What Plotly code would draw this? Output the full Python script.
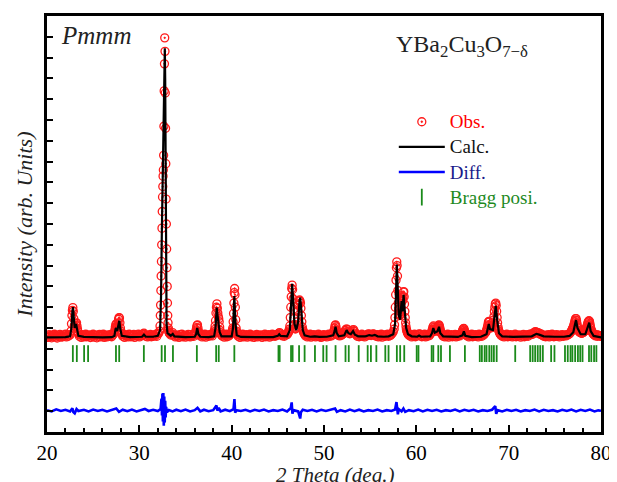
import plotly.graph_objects as go

# ---------------- data ----------------
# Observed pattern: (start 2theta, step, observed intensities in that run)
obs_segments = [
    (20.0, 0.1, [4.62, 4.55, 4.68, 4.58, 4.64, 4.53, 4.66, 4.6, 4.7, 4.57,
                 4.64, 4.52, 4.66, 4.6, 4.69, 4.56, 4.63, 4.58, 4.67, 4.61,
                 4.7, 4.57, 4.65, 4.6, 4.68, 4.66]),
    (22.6, 0.05, [4.85, 5.2, 5.6, 5.85, 5.98, 5.8, 5.45, 5.1, 5.0, 5.05, 5.15, 5.22, 5.25,
                  5.1, 4.95, 4.82, 4.72]),
    (23.5, 0.1, [4.6, 4.66, 4.55, 4.68, 4.62, 4.57, 4.64, 4.7, 4.58, 4.63,
                 4.6, 4.67, 4.54, 4.65, 4.6, 4.7, 4.56, 4.62, 4.66, 4.53,
                 4.66, 4.6, 4.69, 4.57, 4.63, 4.6, 4.7, 4.55, 4.64, 4.61,
                 4.57, 4.67, 4.63, 4.6, 4.69, 4.58, 4.65, 4.7]),
    (27.3, 0.05, [4.78, 4.9, 5.05, 5.15, 5.2, 5.05, 5.0, 5.1, 5.25, 5.42, 5.5, 5.48, 5.25,
                  5.0, 4.85, 4.76, 4.7]),
    (28.2, 0.1, [4.6, 4.66, 4.55, 4.68, 4.6, 4.63, 4.57, 4.7, 4.62, 4.58,
                 4.65, 4.6, 4.69, 4.55, 4.63, 4.67, 4.6, 4.7, 4.57, 4.64,
                 4.62, 4.68, 4.72, 4.75, 4.68, 4.6, 4.66, 4.57, 4.63, 4.6,
                 4.69, 4.58, 4.65, 4.6, 4.67, 4.62, 4.7, 4.6, 4.72, 4.75,
                 4.85]),
    (32.24, 0.03, [5.1, 5.6, 6.1, 6.8, 7.5, 8.2, 9.0, 9.8, 10.6, 11.3, 11.8, 12.3, 12.6,
                   13.3, 14.7, 16.4, 17.7, 18.95, 18.3, 16.3, 14.6, 12.9, 11.2, 10.0, 8.8,
                   7.9, 7.0, 6.2, 5.6, 5.25, 5.0, 4.9, 4.82, 4.78, 4.75, 4.72]),
    (33.4, 0.1, [4.66, 4.7, 4.78, 4.68, 4.62, 4.57, 4.66, 4.6, 4.64, 4.55,
                 4.68, 4.6, 4.7, 4.58, 4.63, 4.66, 4.56, 4.64, 4.6, 4.69,
                 4.6, 4.57, 4.68, 4.62, 4.66, 4.6, 4.7]),
    (36.05, 0.05, [4.75, 4.8, 4.9, 5.02, 5.12, 5.15, 5.0, 4.85, 4.76, 4.7]),
    (36.6, 0.1, [4.62, 4.68, 4.57, 4.65, 4.6, 4.7, 4.56, 4.66, 4.62, 4.6,
                 4.68, 4.63, 4.7, 4.62, 4.72]),
    (38.05, 0.05, [4.75, 4.82, 4.92, 5.1, 5.35, 5.72, 6.0, 6.16, 5.95, 5.72, 5.55, 5.45,
                   5.3, 5.05, 4.88, 4.78, 4.7]),
    (38.9, 0.1, [4.65, 4.6, 4.68, 4.56, 4.64, 4.7, 4.58, 4.66, 4.62, 4.68, 4.72, 4.78]),
    (40.04, 0.04, [4.82, 4.9, 5.0, 5.3, 5.7, 6.2, 6.7, 6.9, 6.6, 6.0, 5.4, 5.0, 4.85,
                   4.78, 4.72, 4.68]),
    (40.7, 0.1, [4.6, 4.66, 4.55, 4.63, 4.6, 4.7, 4.57, 4.64, 4.61, 4.68,
                 4.56, 4.65, 4.6, 4.7, 4.58, 4.63, 4.66, 4.55, 4.64, 4.6,
                 4.69, 4.57, 4.65, 4.6, 4.67, 4.62, 4.55, 4.66, 4.6, 4.7,
                 4.58, 4.63, 4.6, 4.68, 4.56, 4.65, 4.6, 4.7, 4.62, 4.66,
                 4.6, 4.68, 4.64, 4.7, 4.75, 4.78, 4.72, 4.66, 4.62, 4.68,
                 4.6, 4.66, 4.7, 4.68, 4.75]),
    (46.15, 0.05, [4.8, 4.86, 4.95, 5.1, 5.5, 6.0, 6.5, 6.9, 7.06, 6.85,
                   6.4, 5.9, 5.45, 5.15, 5.0, 4.95, 4.98, 5.05, 5.15, 5.3,
                   5.5, 5.8, 6.1, 6.3, 6.35, 6.3, 6.2, 5.95, 5.6, 5.3,
                   5.05, 4.92, 4.85, 4.78, 4.74, 4.7, 4.68]),
    (48.0, 0.1, [4.62, 4.66, 4.57, 4.64, 4.6, 4.7, 4.56, 4.65, 4.6, 4.68,
                 4.62, 4.57, 4.66, 4.6, 4.7, 4.58, 4.64, 4.55, 4.66, 4.6,
                 4.68, 4.6, 4.63, 4.57, 4.66, 4.7, 4.6, 4.66, 4.62, 4.7,
                 4.78]),
    (51.05, 0.05, [4.82, 4.9, 5.0, 5.12, 5.15, 5.05, 4.9, 4.8, 4.72, 4.68, 4.65, 4.66]),
    (51.7, 0.1, [4.62, 4.68, 4.65, 4.7, 4.72, 4.8, 4.88, 4.95, 4.95, 4.85,
                 4.75, 4.72, 4.76, 4.82, 4.9, 4.92, 4.84, 4.72, 4.66, 4.6]),
    (53.7, 0.1, [4.66, 4.58, 4.65, 4.62, 4.7, 4.6, 4.64, 4.57, 4.66, 4.62,
                 4.68, 4.72, 4.7, 4.66, 4.64, 4.68, 4.72, 4.7, 4.66, 4.62,
                 4.6, 4.68, 4.57, 4.64, 4.6, 4.7, 4.56, 4.66, 4.62, 4.6,
                 4.68, 4.63, 4.7, 4.6, 4.66, 4.64, 4.7, 4.75, 4.82, 4.95]),
    (57.64, 0.04, [5.15, 5.5, 6.0, 6.6, 7.3, 7.9, 8.18, 8.0, 7.5,
                   6.8, 6.2, 5.9, 5.7, 5.62, 5.6, 5.65, 5.78, 6.0, 6.3, 6.55, 6.45, 6.3,
                   6.35, 6.5, 6.72, 6.75, 6.5, 6.15, 5.8, 5.5, 5.25, 5.08, 4.95, 4.88,
                   4.82, 4.78, 4.74, 4.7, 4.68, 4.66]),
    (59.3, 0.1, [4.62, 4.68, 4.57, 4.64, 4.6, 4.7, 4.58, 4.66, 4.62, 4.68,
                 4.72, 4.7, 4.62, 4.58, 4.66, 4.6, 4.7, 4.57, 4.64, 4.6,
                 4.68, 4.63, 4.7, 4.76]),
    (61.65, 0.05, [4.8, 4.88, 4.95, 5.05, 5.1, 5.02, 4.95, 4.88, 4.85, 4.86, 4.88, 4.92,
                   4.98, 5.02, 5.08, 5.12, 5.15, 5.1, 5.0, 4.9, 4.8, 4.75, 4.72, 4.7, 4.66]),
    (62.9, 0.1, [4.6, 4.66, 4.57, 4.65, 4.6, 4.7, 4.56, 4.64, 4.62, 4.68,
                 4.58, 4.65, 4.6, 4.69, 4.57, 4.64, 4.6, 4.68, 4.62, 4.7,
                 4.76]),
    (64.95, 0.05, [4.8, 4.86, 4.92, 4.97, 4.98, 4.9, 4.82, 4.76, 4.7, 4.66]),
    (65.5, 0.1, [4.62, 4.68, 4.57, 4.64, 4.6, 4.7, 4.58, 4.66, 4.62, 4.68,
                 4.6, 4.66, 4.57, 4.7, 4.62, 4.65, 4.6, 4.68, 4.66, 4.72,
                 4.78]),
    (67.55, 0.05, [4.82, 4.88, 4.95, 5.05, 5.15, 5.28, 5.32, 5.28, 5.15, 5.05,
                   5.0, 5.02, 5.05, 5.1, 5.15, 5.25, 5.38, 5.55, 5.8, 6.0,
                   6.15, 6.2, 6.08, 5.8, 5.5, 5.25, 5.05, 4.92, 4.84, 4.78,
                   4.74, 4.7, 4.67]),
    (69.2, 0.1, [4.64, 4.6, 4.68, 4.57, 4.65, 4.6, 4.7, 4.58, 4.64, 4.6,
                 4.68, 4.62, 4.57, 4.66, 4.6, 4.7, 4.58, 4.65, 4.6, 4.67,
                 4.62, 4.56, 4.66, 4.6, 4.69, 4.58, 4.64, 4.62, 4.68, 4.6,
                 4.66, 4.7, 4.68, 4.72, 4.7, 4.75, 4.8, 4.82, 4.8, 4.76,
                 4.78, 4.74, 4.7, 4.72, 4.66, 4.64, 4.6, 4.66, 4.58, 4.64,
                 4.6, 4.68, 4.57, 4.65, 4.6, 4.7, 4.62, 4.58, 4.66, 4.6,
                 4.68, 4.6, 4.64, 4.57, 4.66, 4.62, 4.68, 4.6, 4.64, 4.66,
                 4.62, 4.68, 4.66, 4.7, 4.72, 4.78, 4.85]),
    (76.85, 0.05, [4.9, 4.95, 5.0, 5.05, 5.12, 5.2, 5.3, 5.38, 5.45, 5.45,
                   5.35, 5.22, 5.08, 4.98, 4.9, 4.85, 4.82, 4.8, 4.78, 4.78,
                   4.76, 4.75, 4.76, 4.77, 4.78, 4.8, 4.82, 4.84, 4.86, 4.9,
                   4.95, 5.0, 5.05, 5.12, 5.2, 5.28, 5.32, 5.35, 5.32, 5.22,
                   5.1, 4.98, 4.9, 4.84, 4.8, 4.76, 4.73, 4.7, 4.68]),
    (79.3, 0.1, [4.66, 4.62, 4.68, 4.6, 4.66, 4.64, 4.6, 4.62]),
]

calc_points = [
    (20.0, 4.55), (21.0, 4.55), (22.0, 4.56), (22.5, 4.6), (22.65, 5.0), (22.75, 5.8), (22.82, 6.0),
    (22.9, 5.5), (23.0, 5.0), (23.15, 5.2), (23.25, 5.0), (23.4, 4.62), (24.0, 4.57), (25.0, 4.55),
    (26.0, 4.55), (27.0, 4.56), (27.3, 4.62), (27.42, 4.95), (27.48, 5.0), (27.6, 4.85), (27.75, 5.2),
    (27.83, 5.35), (27.92, 5.0), (28.1, 4.62), (29.0, 4.56), (30.3, 4.58), (30.5, 4.68), (30.7, 4.58),
    (31.5, 4.58), (32.0, 4.62), (32.25, 4.9), (32.35, 6.5), (32.45, 10.0), (32.52, 12.1), (32.58, 12.0),
    (32.65, 14.5), (32.72, 18.0), (32.76, 18.45), (32.8, 17.0), (32.85, 12.0), (32.9, 7.0), (32.95, 5.2),
    (33.05, 4.75), (33.4, 4.63), (33.62, 4.72), (33.8, 4.6), (35.0, 4.56), (36.0, 4.58), (36.15, 4.7),
    (36.27, 5.0), (36.4, 4.7), (36.6, 4.58), (37.5, 4.56), (38.1, 4.6), (38.25, 5.0), (38.38, 5.98),
    (38.47, 5.6), (38.58, 5.3), (38.7, 4.8), (38.9, 4.6), (40.0, 4.6), (40.15, 5.0), (40.29, 6.54),
    (40.4, 5.3), (40.55, 4.65), (41.0, 4.57), (43.0, 4.55), (44.5, 4.56), (45.0, 4.62), (45.15, 4.7),
    (45.3, 4.62), (46.0, 4.6), (46.3, 4.9), (46.45, 6.3), (46.55, 7.13), (46.65, 6.4), (46.8, 5.2),
    (47.0, 4.9), (47.2, 5.3), (47.35, 6.3), (47.42, 6.46), (47.55, 5.8), (47.7, 4.9), (47.9, 4.65),
    (48.5, 4.58), (49.0, 4.6), (49.5, 4.57), (50.3, 4.58), (50.6, 4.6), (51.0, 4.65), (51.15, 4.85),
    (51.25, 5.06), (51.38, 4.75), (51.6, 4.6), (52.2, 4.65), (52.45, 4.9), (52.65, 4.75), (52.9, 4.7),
    (53.15, 4.85), (53.35, 4.68), (53.7, 4.6), (54.5, 4.6), (54.9, 4.66), (55.2, 4.63), (55.5, 4.67),
    (55.8, 4.6), (56.5, 4.58), (57.0, 4.6), (57.5, 4.7), (57.7, 5.2), (57.82, 7.0), (57.89, 8.05),
    (57.96, 7.2), (58.1, 5.6), (58.25, 5.4), (58.4, 6.3), (58.5, 5.8), (58.62, 6.6), (58.75, 5.8),
    (58.9, 5.0), (59.1, 4.7), (59.5, 4.6), (60.1, 4.58), (60.3, 4.64), (60.5, 4.58), (61.5, 4.6),
    (61.7, 4.75), (61.84, 5.0), (62.0, 4.78), (62.3, 4.85), (62.46, 5.06), (62.6, 4.75), (62.9, 4.6),
    (64.5, 4.57), (65.0, 4.65), (65.15, 4.84), (65.3, 4.62), (66.0, 4.56), (67.0, 4.58), (67.6, 4.7),
    (67.85, 5.19), (67.98, 4.95), (68.3, 4.9), (68.5, 5.6), (68.6, 6.06), (68.75, 5.4), (68.95, 4.75),
    (69.3, 4.6), (70.5, 4.57), (72.5, 4.6), (73.0, 4.72), (73.3, 4.68), (73.8, 4.6), (75.0, 4.58),
    (76.0, 4.58), (76.6, 4.62), (77.0, 4.8), (77.2, 5.2), (77.3, 5.38), (77.45, 5.0), (77.8, 4.7),
    (78.3, 4.7), (78.55, 5.0), (78.73, 5.26), (78.88, 4.85), (79.2, 4.62), (80.0, 4.55),
]

diff_points = [
    (20.0, 1.05), (20.5, 0.99), (21.0, 1.09), (21.5, 1.01), (22.0, 1.07), (22.5, 0.99), (22.75, 1.14),
    (22.85, 0.96), (23.0, 0.9), (23.2, 1.1), (23.4, 1.01), (24.0, 1.07), (24.5, 0.99), (25.0, 1.08),
    (25.5, 1.01), (26.0, 1.07), (26.5, 0.99), (27.0, 1.05), (27.5, 1.13), (27.8, 0.97), (28.2, 1.07),
    (28.7, 1.0), (29.2, 1.08), (29.7, 0.99), (30.2, 1.05), (30.6, 1.11), (31.0, 1.01), (31.5, 1.07),
    (32.0, 1.01), (32.3, 1.1), (32.4, 1.6), (32.45, 0.8), (32.5, 1.85), (32.55, 0.5), (32.6, 1.88),
    (32.65, 0.3), (32.7, 1.7), (32.75, 0.45), (32.8, 1.5), (32.85, 0.7), (32.9, 1.2), (33.0, 0.95),
    (33.2, 1.06), (33.6, 0.99), (34.0, 1.07), (34.5, 1.0), (35.0, 1.08), (35.5, 0.99), (36.0, 1.05),
    (36.3, 1.16), (36.6, 0.99), (37.0, 1.07), (37.5, 1.0), (38.0, 1.05), (38.35, 1.27), (38.45, 1.03),
    (38.6, 1.16), (38.8, 0.99), (39.3, 1.07), (39.8, 1.0), (40.2, 1.1), (40.3, 1.58), (40.38, 0.93),
    (40.5, 1.05), (41.0, 1.01), (41.5, 1.07), (42.0, 0.99), (42.5, 1.07), (43.0, 1.01), (43.5, 1.08),
    (44.0, 0.99), (44.5, 1.05), (45.0, 1.01), (45.5, 1.08), (46.0, 0.99), (46.4, 1.15), (46.5, 1.42),
    (46.58, 0.88), (46.7, 1.05), (47.2, 0.99), (47.35, 0.8), (47.42, 0.65), (47.5, 0.95), (47.7, 1.07),
    (48.2, 1.01), (48.7, 1.07), (49.2, 0.99), (49.7, 1.07), (50.2, 1.01), (50.7, 1.08), (51.2, 1.13),
    (51.4, 0.97), (51.8, 1.05), (52.3, 0.99), (52.8, 1.08), (53.3, 1.0), (53.8, 1.07), (54.3, 0.99),
    (54.8, 1.05), (55.3, 1.01), (55.8, 1.08), (56.3, 0.99), (56.8, 1.05), (57.3, 1.01), (57.7, 1.08),
    (57.85, 1.44), (57.92, 0.95), (58.0, 0.85), (58.1, 1.1), (58.4, 0.99), (58.6, 1.13), (58.8, 0.97),
    (59.2, 1.05), (59.7, 1.0), (60.2, 1.08), (60.7, 0.99), (61.2, 1.07), (61.7, 1.01), (62.2, 1.07),
    (62.7, 0.99), (63.2, 1.05), (63.7, 1.01), (64.2, 1.08), (64.7, 0.99), (65.2, 1.07), (65.7, 1.01),
    (66.2, 1.07), (66.7, 0.99), (67.2, 1.05), (67.7, 1.01), (68.2, 1.07), (68.55, 1.24), (68.65, 0.87),
    (68.8, 1.05), (69.3, 0.99), (69.8, 1.07), (70.3, 1.01), (70.8, 1.07), (71.3, 0.99), (71.8, 1.05),
    (72.3, 1.01), (72.8, 1.08), (73.3, 0.99), (73.8, 1.07), (74.3, 1.01), (74.8, 1.05), (75.3, 0.99),
    (75.8, 1.07), (76.3, 1.01), (76.8, 1.08), (77.3, 0.99), (77.8, 1.07), (78.3, 1.01), (78.8, 1.08),
    (79.3, 0.99), (79.7, 1.04), (80.0, 1.02),
]

bragg_pos = [
    22.80, 23.23, 24.02, 24.45, 27.47, 27.82, 30.49, 32.42, 32.78, 33.64, 36.23, 38.32, 38.60, 40.29,
    45.07, 45.20, 46.43, 46.60, 47.30, 47.90, 49.02, 49.92, 50.28, 51.25, 52.33, 52.68, 53.76, 54.73,
    55.08, 55.67, 56.64, 56.99, 57.89, 58.25, 58.69, 60.04, 60.23, 61.66, 61.84, 62.38, 62.67, 63.64,
    65.26, 66.87, 67.10, 67.40, 67.60, 67.90, 68.15, 68.40, 68.70, 70.71, 72.33, 72.60, 72.87, 73.15,
    73.42, 73.70, 74.60, 74.96, 76.10, 76.40, 76.70, 76.90, 77.20, 77.50, 77.75, 78.00, 78.70, 78.95,
    79.25, 79.50,
]
bragg_level = 3.77

x_ticks = [20, 30, 40, 50, 60, 70, 80]

# ---------------- assemble ----------------
obs_x, obs_y = [], []
for start, step, vals in obs_segments:
    for i, v in enumerate(vals):
        obs_x.append(round(start + i * step, 3))
        obs_y.append(v)
calc_x = [p[0] for p in calc_points]
calc_y = [p[1] for p in calc_points]
diff_x = [p[0] for p in diff_points]
diff_y = [p[1] for p in diff_points]

FONT = "Liberation Serif"

fig = go.Figure()
fig.add_trace(go.Scatter(
    x=obs_x, y=obs_y, mode="markers",
    name="<span style='color:#ff0000;font-size:19px'>Obs.</span>",
    marker=dict(symbol="circle-open-dot", size=8, color="#ff1a1a", line=dict(width=1.3, color="#ff1a1a")),
))
fig.add_trace(go.Scatter(
    x=calc_x, y=calc_y, mode="lines",
    name="<span style='color:#111111;font-size:19px'>Calc.</span>",
    line=dict(color="black", width=2.2),
))
fig.add_trace(go.Scatter(
    x=diff_x, y=diff_y, mode="lines",
    name="<span style='color:#1a1a8a;font-size:19px'>Diff.</span>",
    line=dict(color="#0000ff", width=2.6),
))
fig.add_trace(go.Scatter(
    x=bragg_pos, y=[bragg_level] * len(bragg_pos), mode="markers",
    name="<span style='color:#1e8a1e;font-size:19px'>Bragg posi.</span>",
    marker=dict(symbol="line-ns", size=12, color="#1a8a1a", line=dict(width=1.8, color="#1a8a1a")),
))

# page body has an 8px default margin: figure is 609x474 so the plot area lands at x 47-602, y 13-432
fig.update_layout(
    width=609, height=474,
    margin=dict(l=39, r=15, t=5, b=50),
    plot_bgcolor="white", paper_bgcolor="white",
    font=dict(family=FONT, color="black"),
    showlegend=True,
    legend=dict(x=0.626, y=0.788, xanchor="left", yanchor="top", bgcolor="rgba(0,0,0,0)",
                font=dict(family=FONT, size=17), itemwidth=46, tracegroupgap=0),
)
fig.update_xaxes(
    range=[20, 80], tickvals=x_ticks, ticks="inside", ticklen=7, tickwidth=2, tickcolor="black",
    minor=dict(dtick=2, ticks="inside", ticklen=4, tickwidth=1.5, tickcolor="black"),
    showline=True, linewidth=2.5, linecolor="black", mirror=True, showgrid=False, zeroline=False,
    tickfont=dict(family=FONT, size=21, color="black"),
)
fig.update_yaxes(
    range=[0, 20], dtick=1, tick0=0, ticks="inside", ticklen=6, tickwidth=2, tickcolor="black",
    showticklabels=False, showline=True, linewidth=2.5, linecolor="black", mirror=True,
    showgrid=False, zeroline=False,
)

fig.add_annotation(text="<i>2 Theta (deg.)</i>", xref="paper", yref="paper", x=0.52, y=-0.104,
                   xanchor="center", yanchor="middle", showarrow=False,
                   font=dict(family=FONT, size=21, color="#222"))
fig.add_annotation(text="<i>Intensity (arb. Units)</i>", xref="paper", yref="paper", x=-0.04, y=0.498,
                   xanchor="center", yanchor="middle", textangle=-90, showarrow=False,
                   font=dict(family=FONT, size=22, color="#222"))
fig.add_annotation(text="<i>Pmmm</i>", xref="paper", yref="paper", x=0.022, y=0.952,
                   xanchor="left", yanchor="middle", showarrow=False,
                   font=dict(family=FONT, size=25, color="#222"))
fig.add_annotation(text="YBa<sub>2</sub>Cu<sub>3</sub>O<sub>7\u2212\u03b4</sub>", xref="paper", yref="paper",
                   x=0.627, y=0.928, xanchor="left", yanchor="middle", showarrow=False,
                   font=dict(family=FONT, size=24, color="#222"))

fig.write_html("out.html")
